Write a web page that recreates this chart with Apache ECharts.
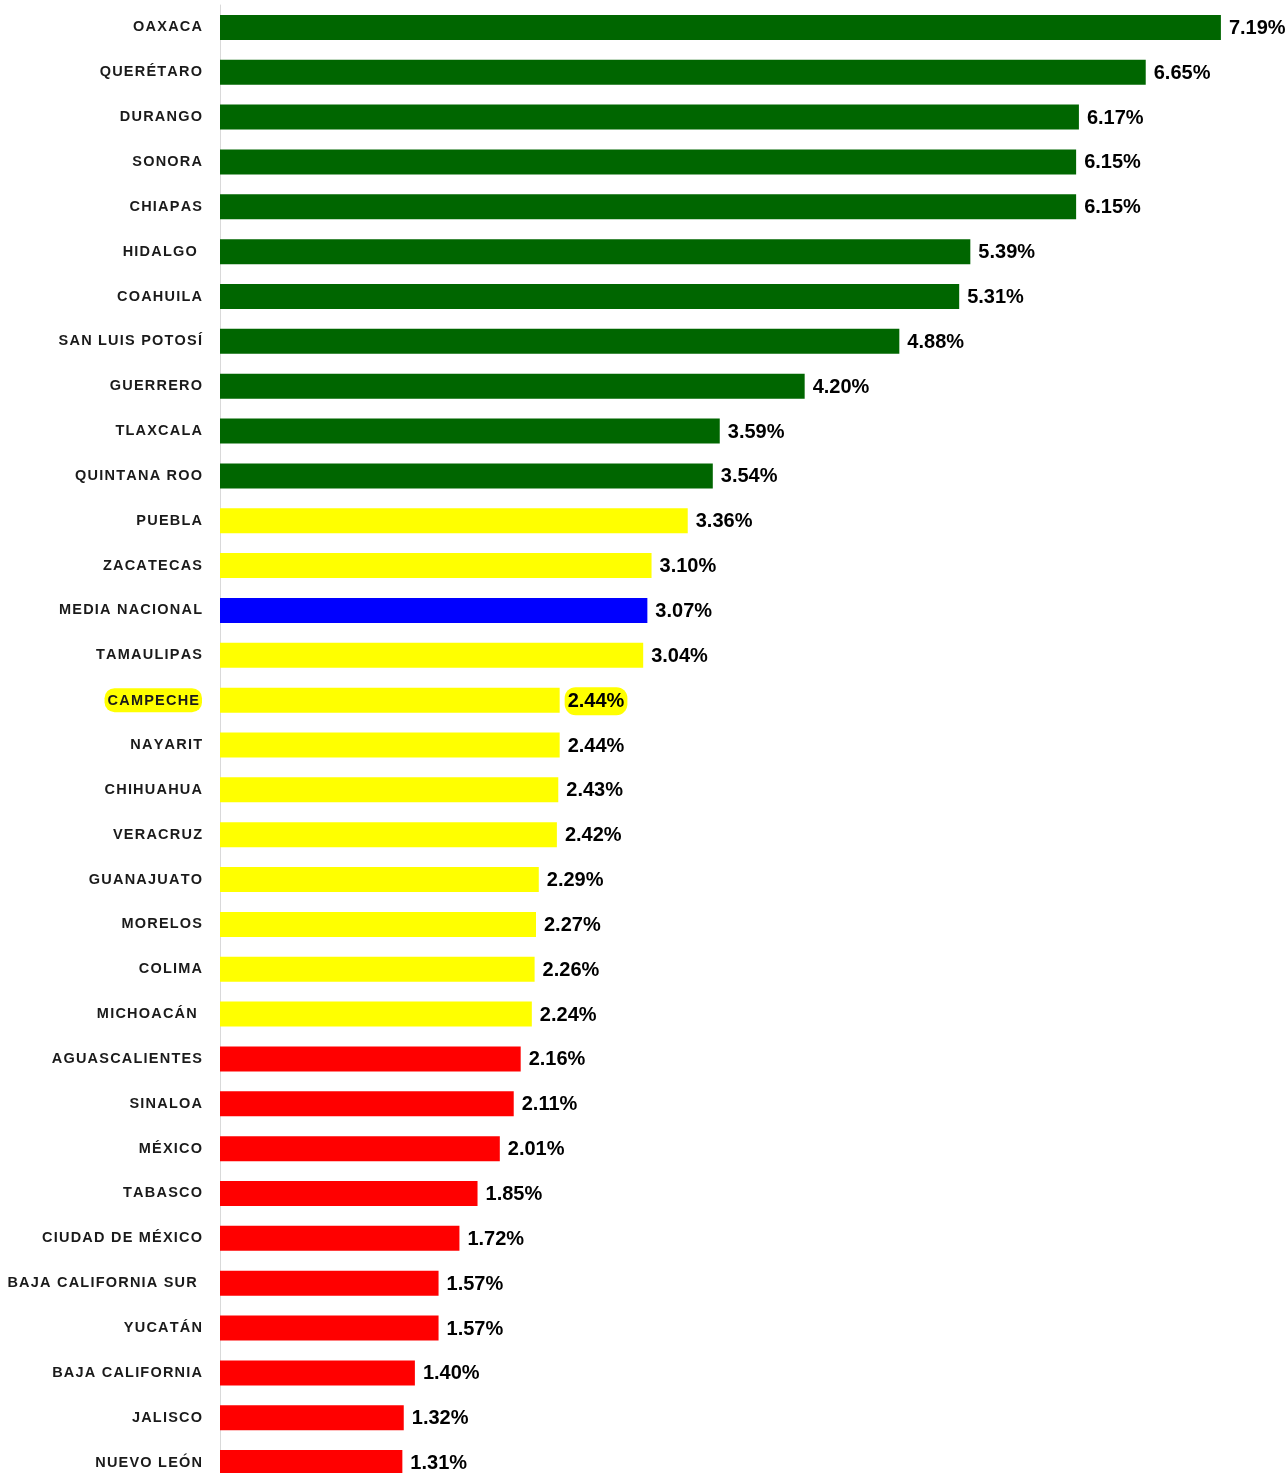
<!DOCTYPE html>
<html>
<head>
<meta charset="utf-8">
<script src="https://cdn.jsdelivr.net/npm/echarts@6/dist/echarts.min.js"></script>
<style>
  html, body { margin: 0; padding: 0; background: #fff; }
  #chart { width: 1288px; height: 1473px; }
</style>
</head>
<body>
<div id="chart"></div>
<script>
// entidades, de mayor a menor
const estados = [
  "OAXACA", "QUERÉTARO", "DURANGO", "SONORA", "CHIAPAS", "HIDALGO ", "COAHUILA",
  "SAN LUIS POTOSÍ", "GUERRERO", "TLAXCALA", "QUINTANA ROO", "PUEBLA", "ZACATECAS",
  "MEDIA NACIONAL", "TAMAULIPAS", "CAMPECHE", "NAYARIT", "CHIHUAHUA", "VERACRUZ",
  "GUANAJUATO", "MORELOS", "COLIMA", "MICHOACÁN ", "AGUASCALIENTES", "SINALOA",
  "MÉXICO", "TABASCO", "CIUDAD DE MÉXICO", "BAJA CALIFORNIA SUR ", "YUCATÁN",
  "BAJA CALIFORNIA", "JALISCO", "NUEVO LEÓN"
];
const porcentajes = [
  7.19, 6.65, 6.17, 6.15, 6.15, 5.39, 5.31, 4.88, 4.20, 3.59, 3.54, 3.36, 3.10,
  3.07, 3.04, 2.44, 2.44, 2.43, 2.42, 2.29, 2.27, 2.26, 2.24, 2.16, 2.11, 2.01,
  1.85, 1.72, 1.57, 1.57, 1.40, 1.32, 1.31
];
// grupo de cada barra
const grupos = [
  "alto", "alto", "alto", "alto", "alto", "alto", "alto", "alto", "alto", "alto", "alto",
  "medio", "medio", "nacional", "medio", "medio", "medio", "medio", "medio", "medio",
  "medio", "medio", "medio", "bajo", "bajo", "bajo", "bajo", "bajo", "bajo", "bajo",
  "bajo", "bajo", "bajo"
];
const destacado = "CAMPECHE";

const colores = { alto: "#006600", medio: "#ffff00", nacional: "#0000ff", bajo: "#ff0000" };
const fuenteEtiqueta = "'Liberation Sans', Arial, sans-serif";

// espaciado entre letras
function espaciar(s) {
  return s.split("").join("\u200A");
}

const chart = echarts.init(document.getElementById("chart"));

const datos = porcentajes.map(function (v, i) {
  const item = { value: v, itemStyle: { color: colores[grupos[i]] } };
  if (estados[i] === destacado) {
    item.label = {
      backgroundColor: "#ffff00",
      borderRadius: 11,
      padding: [5, 3, 3, 3],
      distance: 5
    };
  }
  return item;
});

chart.setOption({
  animation: false,
  grid: { left: 220, top: 5, right: 0, height: 1480, outerBoundsMode: "none", containLabel: false },
  xAxis: {
    type: "value",
    min: 0,
    max: 7.672,
    show: false
  },
  yAxis: {
    type: "category",
    inverse: true,
    data: estados,
    axisLine: { show: true, lineStyle: { color: "#d9d9d9", width: 1 } },
    axisTick: { show: false },
    axisLabel: {
      margin: 18,
      color: "#1a1a1a",
      fontFamily: fuenteEtiqueta,
      fontWeight: "bold",
      fontSize: 14.5,
      formatter: function (v) {
        if (v === destacado) return "{hl|" + espaciar(v) + "}";
        return espaciar(v);
      },
      rich: {
        hl: {
          backgroundColor: "#ffff00",
          borderRadius: 10,
          padding: [5, 3, 4, 3],
          color: "#1a1a1a",
          fontFamily: fuenteEtiqueta,
          fontWeight: "bold",
          fontSize: 14.5
        }
      }
    }
  },
  series: [{
    type: "bar",
    data: datos,
    barWidth: 25,
    label: {
      show: true,
      position: "right",
      distance: 8,
      offset: [0, 1],
      color: "#000",
      fontFamily: fuenteEtiqueta,
      fontWeight: "bold",
      fontSize: 20,
      formatter: function (p) { return p.value.toFixed(2) + "%"; }
    }
  }]
});
</script>
</body>
</html>
